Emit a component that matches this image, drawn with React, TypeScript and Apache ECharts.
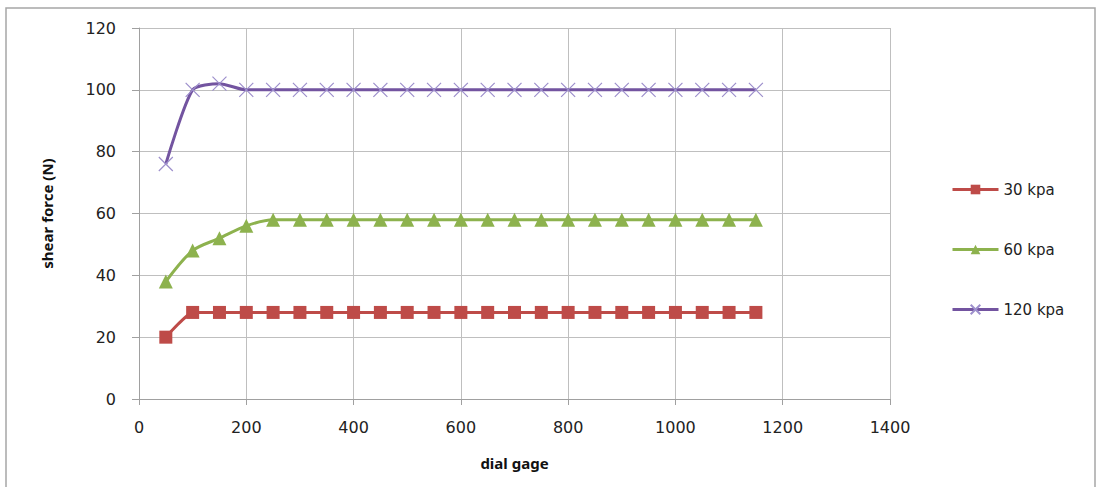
import React, { useEffect, useRef } from "react";
import * as echarts from "echarts";

const dialGage = [50, 100, 150, 200, 250, 300, 350, 400, 450, 500, 550, 600, 650, 700, 750, 800, 850, 900, 950, 1000, 1050, 1100, 1150];
const kpa30 = [20, 28, 28, 28, 28, 28, 28, 28, 28, 28, 28, 28, 28, 28, 28, 28, 28, 28, 28, 28, 28, 28, 28];
const kpa60 = [38, 48, 52, 56, 58, 58, 58, 58, 58, 58, 58, 58, 58, 58, 58, 58, 58, 58, 58, 58, 58, 58, 58];
const kpa120 = [76, 100, 102, 100, 100, 100, 100, 100, 100, 100, 100, 100, 100, 100, 100, 100, 100, 100, 100, 100, 100, 100, 100];
const seriesNames = ["30 kpa", "60 kpa", "120 kpa"];

const FONT = "'DejaVu Sans', 'Noto Sans', sans-serif";
const NAME_FONT = "'Noto Sans', 'Open Sans', sans-serif";
const pairs = (ys: number[]) => dialGage.map((x, i) => [x, ys[i]]);

export default function App() {
  const ref = useRef<HTMLDivElement>(null);

  useEffect(() => {
    document.body.style.margin = "0";
    const chart = echarts.init(ref.current!, undefined, { renderer: "svg" });
    chart.setOption({
      animation: false,
      backgroundColor: "#ffffff",
      graphic: [
        {
          type: "rect",
          shape: { x: 6, y: 8, width: 1089, height: 500 },
          style: { fill: "none", stroke: "#a6a6a6", lineWidth: 1.5 },
          z: -1,
        },
      ],
      grid: { left: 139, right: 209, top: 28, bottom: 88, containLabel: false },
      legend: {
        orient: "vertical",
        left: 946,
        top: 177,
        itemWidth: 46,
        itemHeight: 12,
        itemGap: 45,
        lineStyle: { width: 3 },
        textStyle: { fontFamily: FONT, fontSize: 15, color: "#222" },
        data: seriesNames,
      },
      xAxis: {
        type: "value",
        min: 0,
        max: 1400,
        interval: 200,
        name: "dial gage",
        nameLocation: "middle",
        nameGap: 56,
        nameTextStyle: { fontFamily: NAME_FONT, fontSize: 15, fontWeight: "bold", color: "#111" },
        axisLine: { show: true, lineStyle: { color: "#a0a0a0", width: 1 } },
        axisTick: { show: true, length: 6, lineStyle: { color: "#a0a0a0" } },
        axisLabel: { fontFamily: FONT, fontSize: 16, color: "#222", margin: 20, formatter: (v: number) => String(v) },
        splitLine: { show: true, lineStyle: { color: "#bfbfbf", width: 1 } },
      },
      yAxis: {
        type: "value",
        min: 0,
        max: 120,
        interval: 20,
        name: "shear force (N)",
        nameLocation: "middle",
        nameGap: 85,
        nameRotate: 90,
        nameTextStyle: { fontFamily: NAME_FONT, fontSize: 15, fontWeight: "bold", color: "#111" },
        axisLine: { show: true, lineStyle: { color: "#a0a0a0", width: 1 } },
        axisTick: { show: true, length: 7, lineStyle: { color: "#a0a0a0" } },
        axisLabel: { fontFamily: FONT, fontSize: 16, color: "#222", margin: 23 },
        splitLine: { show: true, lineStyle: { color: "#bfbfbf", width: 1 } },
      },
      series: [
        {
          name: seriesNames[0],
          type: "line",
          data: pairs(kpa30),
          smooth: 0.15,
          symbol: "rect",
          symbolSize: 13,
          lineStyle: { color: "#be4b48", width: 3 },
          itemStyle: { color: "#be4b48", borderWidth: 0 },
        },
        {
          name: seriesNames[1],
          type: "line",
          data: pairs(kpa60),
          smooth: 0.3,
          symbol: "triangle",
          symbolSize: 14,
          lineStyle: { color: "#8db24e", width: 3 },
          itemStyle: { color: "#8db24e", borderWidth: 0 },
        },
        {
          name: seriesNames[2],
          type: "line",
          data: pairs(kpa120),
          smooth: 0.22,
          symbol: "path://M0,0L10,10M10,0L0,10",
          symbolSize: 14,
          lineStyle: { color: "#7354a0", width: 3 },
          itemStyle: { color: "none", borderColor: "#9d8fcc", borderWidth: 1.2 },
        },
      ],
    });
    return () => chart.dispose();
  }, []);

  return <div ref={ref} style={{ width: 1099, height: 487 }} />;
}
